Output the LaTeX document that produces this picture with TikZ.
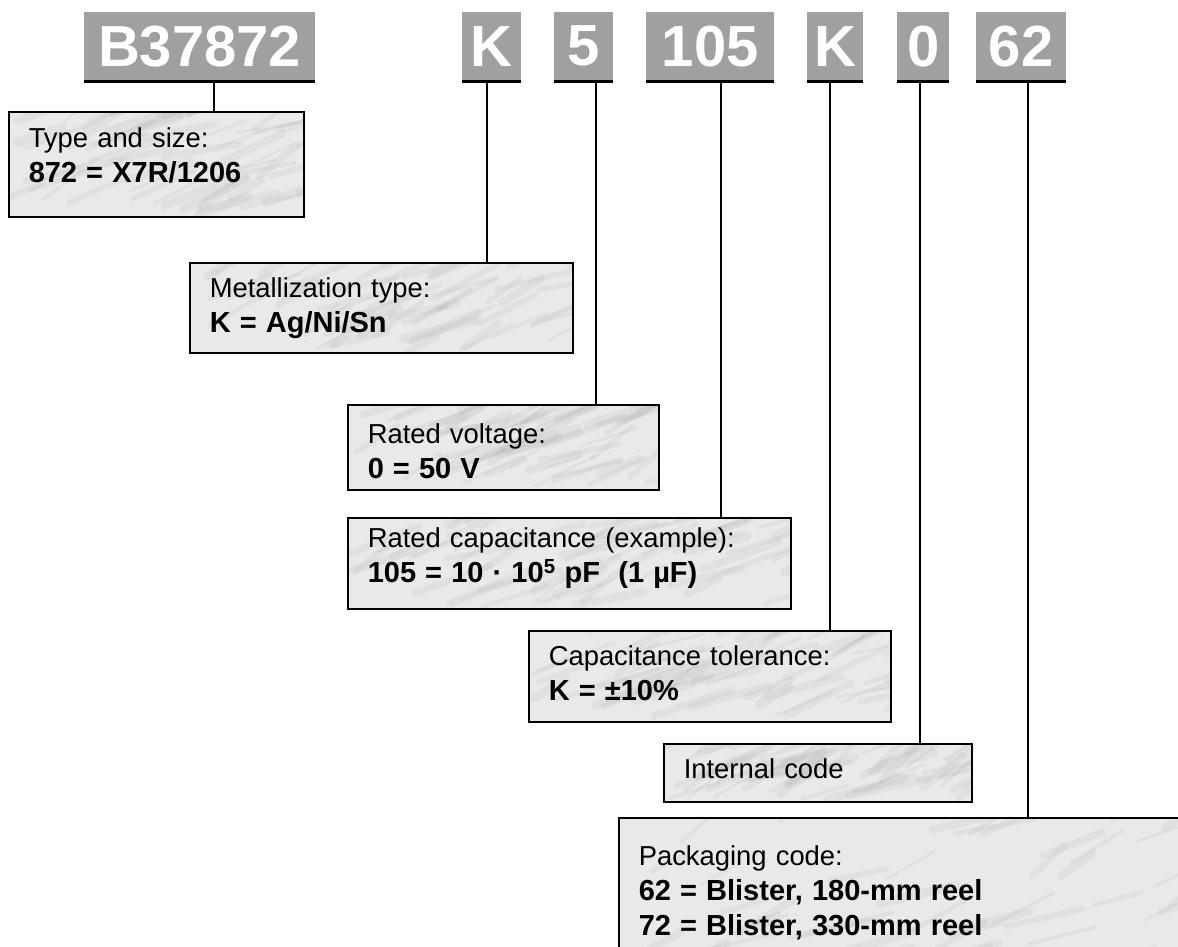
\documentclass[tikz,border=0pt]{standalone}
\usepackage{fontspec}
\setmainfont{Liberation Sans}
\usepackage{tikz}
\usetikzlibrary{positioning,calc}
\definecolor{hdrgray}{RGB}{160,160,160}
\definecolor{marble}{RGB}{232,233,235}
\definecolor{vein}{RGB}{140,142,146}
\pgfmathsetseed{7}
\tikzset{
  code/.style={fill=hdrgray, text=white, font=\fontsize{58}{58}\selectfont\bfseries,
               inner sep=0pt, minimum height=68, anchor=north west},
  infobox/.style={draw=black, line width=1.5, fill=marble, anchor=north west,
                  inner xsep=20, inner ysep=0, align=left,
                  font=\fontsize{27.4}{35}\selectfont, marbled},
  marbled/.style={path picture={
      \path (path picture bounding box.south west) coordinate (pa)
            (path picture bounding box.north east) coordinate (pb);
      \foreach \i in {1,...,60}{
        \path ($(pa)!rnd!(pa -| pb)$) coordinate (qx)
              ($(pa)!rnd!(pa |- pb)$) coordinate (qy);
        \draw[vein, opacity=.09, line width=2+7*rnd, line cap=round]
          (qx |- qy) -- ++(30+50*rnd, -12-22*rnd);
      }}},
  tie/.style={line width=1.5}
}
\newcommand{\bline}[1]{{\fontsize{29}{35}\selectfont\bfseries #1}}

\begin{document}
\begin{tikzpicture}[x=1pt,y=-1pt,line cap=butt]
\useasboundingbox (0,0) rectangle (1178,946);
\clip (0,0) rectangle (1178,946);
% code fields on top
\node[code, minimum width=231] (hB)   at (84,12)  {B37872};
\node[code, minimum width=59]  (hK)   at (462,12) {K};
\node[code, minimum width=59]  (h5)   at (554,12) {5};
\node[code, minimum width=128] (h105) at (646,12) {105};
\node[code, minimum width=56]  (hKt)  at (807,12) {K};
\node[code, minimum width=52]  (h0)   at (897,12) {0};
\node[code, minimum width=90]  (h62)  at (976,12) {62};
\foreach \n in {hB,hK,h5,h105,hKt,h0,h62}
  \draw[line width=3] ([yshift=-1.5]\n.south west) -- ([yshift=-1.5]\n.south east);
% explanation boxes
\node[infobox, text width=255, text height=36, text depth=69] (typebox) at (8,111)
  {Type and size:\\ \bline{872 = X7R/1206}};
\node[infobox, text width=343, text height=35, text depth=55] (metalbox) at (189,262)
  {Metallization type:\\ \bline{K = Ag/Ni/Sn}};
\node[infobox, text width=271, text height=39, text depth=46] (voltbox) at (347,404)
  {Rated voltage:\\ \bline{0 = 50 V}};
\node[infobox, text width=403, text height=30, text depth=61] (capbox) at (347,517)
  {Rated capacitance (example):\\ \bline{105 = 10 · 10\textsuperscript{5} pF\ \ (1 µF)}};
\node[infobox, text width=322, text height=35, text depth=56] (tolbox) at (528,630)
  {Capacitance tolerance:\\ \bline{K = ±10\%}};
\node[infobox, text width=268, text height=35, text depth=23] (intbox) at (663,743)
  {Internal code};
\node[infobox, text width=700, text height=48, text depth=112] (packbox) at (618,817)
  {Packaging code:\\ \bline{62 = Blister, 180-mm reel}\\ \bline{72 = Blister, 330-mm reel}};
% leader lines
\foreach \h/\b/\x in {hB/typebox/214, hK/metalbox/487, h5/voltbox/596, h105/capbox/721,
                      hKt/tolbox/830, h0/intbox/920, h62/packbox/1028}
  \draw[tie] (\h.south -| \x,0) -- (\b.north -| \x,0);
\end{tikzpicture}
\end{document}
